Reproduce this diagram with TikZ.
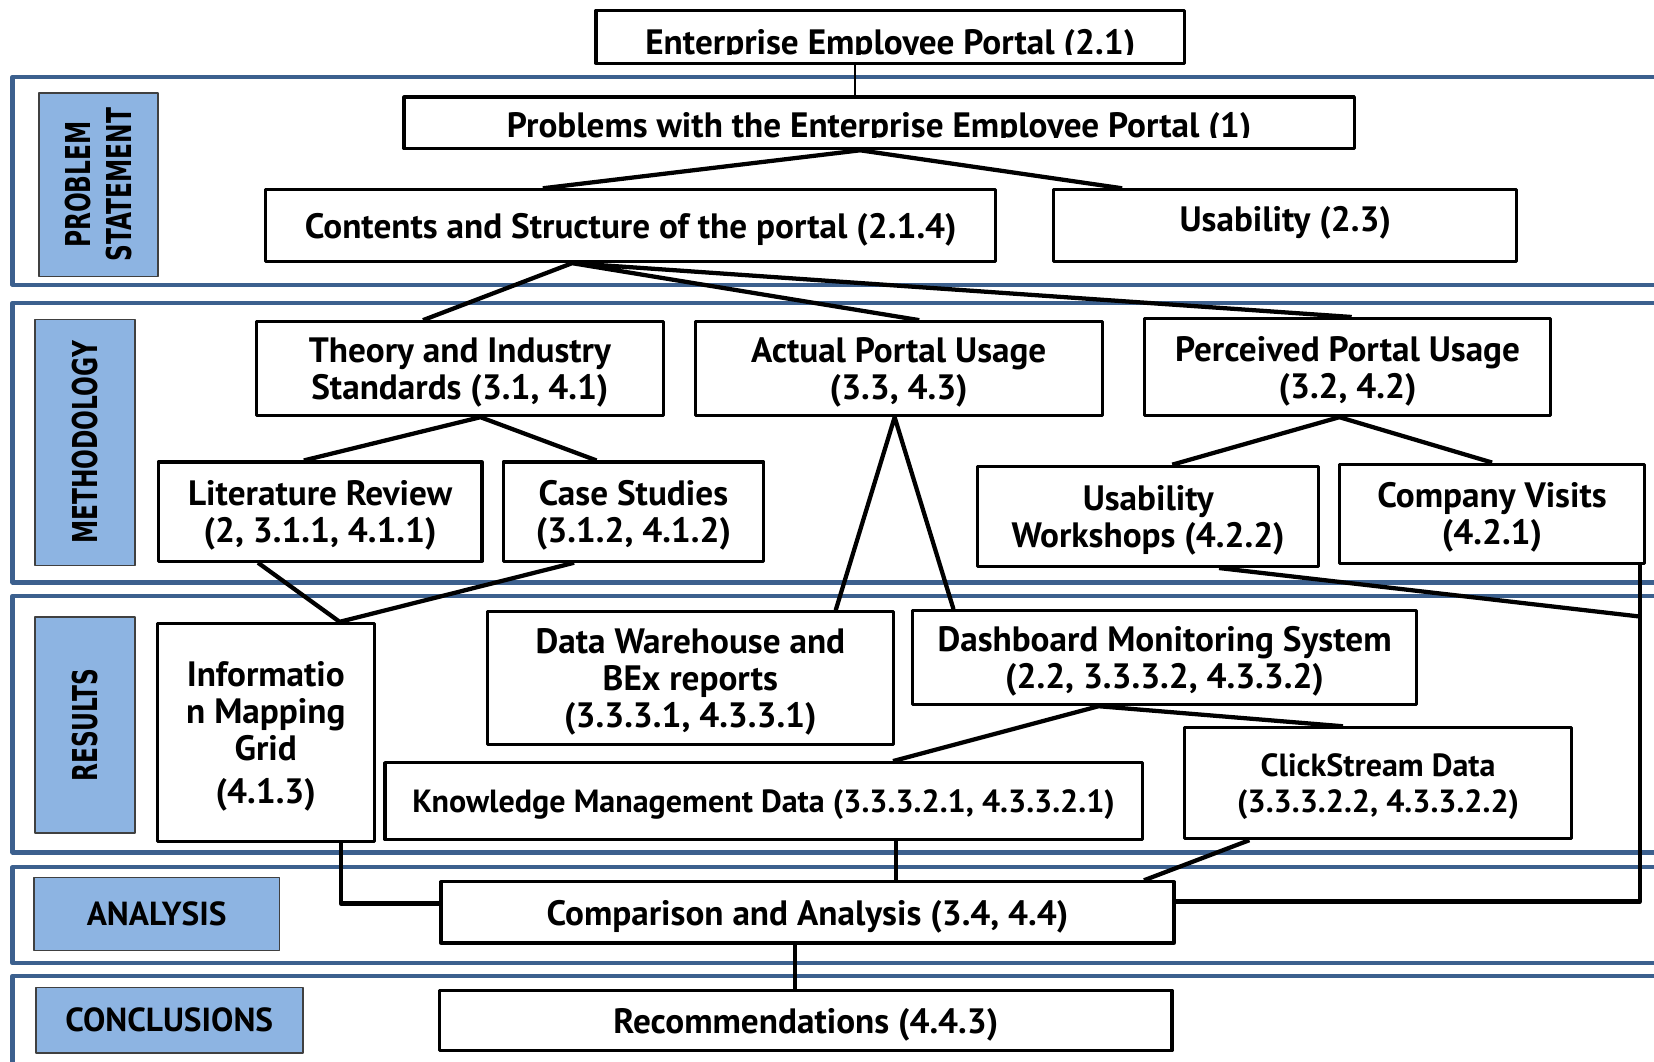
\documentclass[tikz,border=0pt]{standalone}
\usepackage{fontspec}
\setmainfont{PT Sans}
\newfontfamily\bandfont[FakeStretch=0.68]{DejaVu Sans}
\usetikzlibrary{calc}
\definecolor{bandblue}{RGB}{60,96,142}
\definecolor{labelblue}{RGB}{141,180,226}
\begin{document}
\begin{tikzpicture}[x=0.02cm,y=-0.02cm,line join=round,
    font=\bfseries\fontsize{19}{20}\selectfont]
    \tikzset{box/.style={draw,fill=white,line width=1.7pt,align=center,inner sep=0pt,text depth=0pt},
        sz/.style 2 args={minimum width=#1*0.02cm,minimum height=#2*0.02cm},
        lbl/.style={draw=black!75,fill=labelblue,line width=0.9pt,align=center,inner sep=0pt,
            font=\bfseries\fontsize{18}{20}\selectfont},
        vlbl/.style={lbl,rotate=90,font=\bandfont\bfseries\fontsize{18.5}{22}\selectfont},
        band/.style={draw=bandblue,line width=2.4pt},
        link/.style={line width=2.3pt},
        small/.style={font=\bfseries\fontsize{17.3}{19.5}\selectfont}}
    \useasboundingbox (0,0) rectangle (1568,1006);
    \begin{scope}
        \clip (0,0) rectangle (1568,1006);
        % bands
        \draw[band] (12,73) rectangle (1600,270);
        \draw[band] (12,287) rectangle (1600,552);
        \draw[band] (12,565) rectangle (1600,808);
        \draw[band] (12,822) rectangle (1600,913);
        \draw[band] (12,925) rectangle (1600,1040);
    \end{scope}
    % side labels
    \node[vlbl,sz={174}{113}] (lprob) at (93.5,175) {PROBLEM\\STATEMENT};
    \node[vlbl,sz={233}{95}] (lmeth) at (80.5,419.5) {METHODOLOGY};
    \node[vlbl,sz={205}{95}] (lres) at (80.5,687.5) {RESULTS};
    \node[lbl,sz={233}{69}] (lana) at (148.5,866.5) {ANALYSIS};
    \node[lbl,sz={253}{62}] (lconc) at (160.5,967) {CONCLUSIONS};
    % problem statement
    \node[box,sz={558}{50}] (ent) at (844,35) {};
    \begin{scope}
        \clip (ent.north west) rectangle ($(ent.south east)+(0,-10)$);
        \node[anchor=base] (enttext) at ($(ent.south)+(0,-10)$) {Enterprise Employee Portal (2.1)};
    \end{scope}
    \node[box,sz={901}{49}] (prob) at (833.5,116.5) {};
    \begin{scope}
        \clip (prob.north west) rectangle ($(prob.south east)+(0,-12)$);
        \node[anchor=base] (probtext) at ($(prob.south)+(0,-12)$) {Problems with the Enterprise Employee Portal (1)};
    \end{scope}
    \node[box,sz={692}{68}] (cont) at (598,214) {Contents and Structure of the portal (2.1.4)};
    \node[box,sz={439}{68},text depth=7pt] (usab) at (1218.5,214) {Usability (2.3)};
    % methodology
    \node[box,sz={386}{89}] (theo) at (436,349.5) {Theory and Industry\\Standards (3.1, 4.1)};
    \node[box,sz={386}{89}] (act) at (852,349.5) {Actual Portal Usage\\(3.3, 4.3)};
    \node[box,sz={385}{92}] (perc) at (1277.5,348) {Perceived Portal Usage\\(3.2, 4.2)};
    \node[box,sz={307}{94}] (lit) at (303.5,485) {Literature Review\\(2, 3.1.1, 4.1.1)};
    \node[box,sz={247}{94}] (case) at (600.5,485) {Case Studies\\(3.1.2, 4.1.2)};
    \node[box,sz={323}{95}] (uw) at (1088.5,489.5) {Usability\\Workshops (4.2.2)};
    \node[box,sz={289}{94}] (cv) at (1414.5,487) {Company Visits\\(4.2.1)};
    % results
    \node[box,sz={206}{207}] (img) at (252,694.5) {Informatio\\n Mapping\\Grid\\[3pt](4.1.3)};
    \node[box,sz={385}{126}] (dw) at (654.5,643) {Data Warehouse and\\BEx reports\\(3.3.3.1, 4.3.3.1)};
    \node[box,sz={478}{89}] (dash) at (1104,623.5) {Dashboard Monitoring System\\(2.2, 3.3.3.2, 4.3.3.2)};
    \node[box,small,sz={718}{73}] (km) at (724,759.5) {Knowledge Management Data (3.3.3.2.1, 4.3.3.2.1)};
    \node[box,small,sz={367}{105}] (click) at (1306.5,742.5) {ClickStream Data\\(3.3.3.2.2, 4.3.3.2.2)};
    % analysis and conclusions
    \node[box,sz={695}{58}] (comp) at (765.5,865) {Comparison and Analysis (3.4, 4.4)};
    \node[box,sz={694}{57}] (rec) at (764,967.5) {Recommendations (4.4.3)};
    % connectors
    \draw[line width=1.4pt] ($(ent.south west)!0.44!(ent.south east)$) coordinate (e1) -- (e1 |- prob.north);
    \draw[link] ($(prob.south west)!0.48!(prob.south east)$) coordinate (p1) -- ($(cont.north west)!0.38!(cont.north east)$)
        (p1) -- ($(usab.north west)!0.15!(usab.north east)$);
    \draw[link] ($(cont.south west)!0.42!(cont.south east)$) coordinate (c1) -- ($(theo.north west)!0.41!(theo.north east)$)
        (c1) -- ($(act.north west)!0.55!(act.north east)$)
        (c1) -- ($(perc.north west)!0.51!(perc.north east)$);
    \draw[link] ($(theo.south west)!0.55!(theo.south east)$) coordinate (t1) -- ($(lit.north west)!0.45!(lit.north east)$)
        (t1) -- ($(case.north west)!0.36!(case.north east)$);
    \draw[link] ($(act.south west)!0.49!(act.south east)$) coordinate (a1) -- ($(dw.north west)!0.855!(dw.north east)$)
        (a1) -- ($(dash.north west)!0.084!(dash.north east)$);
    \draw[link] ($(perc.south west)!0.48!(perc.south east)$) coordinate (q1) -- ($(uw.north west)!0.57!(uw.north east)$)
        (q1) -- ($(cv.north west)!0.5!(cv.north east)$);
    \draw[link] ($(lit.south west)!0.31!(lit.south east)$) -- ($(img.north west)!0.835!(img.north east)$) coordinate (i1)
        ($(case.south west)!0.275!(case.south east)$) -- (i1);
    \draw[link] ($(cv.south west)!0.98!(cv.south east)$) coordinate (v1) |- ($(comp.north east)!0.33!(comp.south east)$);
    \draw[link] ($(uw.south west)!0.706!(uw.south east)$) -- ($(v1)+(0,49)$);
    \draw[link] ($(dash.south west)!0.37!(dash.south east)$) coordinate (d1) -- ($(km.north west)!0.67!(km.north east)$)
        (d1) -- ($(click.north west)!0.41!(click.north east)$);
    \draw[link,line width=1.8pt] ($(km.south west)!0.674!(km.south east)$) coordinate (k1) -- (k1 |- comp.north);
    \draw[link] ($(click.south west)!0.17!(click.south east)$) -- ($(comp.north west)!0.957!(comp.north east)$);
    \draw[link] ($(img.south west)!0.84!(img.south east)$) |- ($(comp.north west)!0.36!(comp.south west)$);
    \draw[link,line width=1.8pt] ($(comp.south west)!0.483!(comp.south east)$) coordinate (m1) -- (m1 |- rec.north);
\end{tikzpicture}
\end{document}
